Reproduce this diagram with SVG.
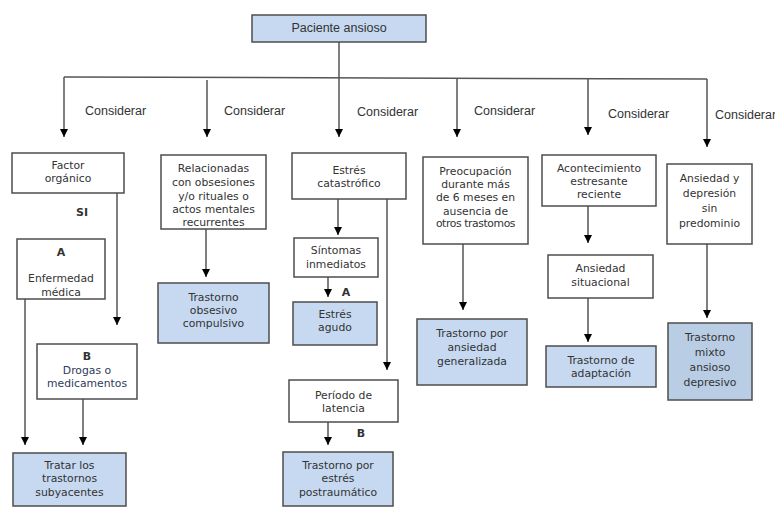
<svg xmlns="http://www.w3.org/2000/svg" width="775" height="508" viewBox="0 0 775 508">
<style>
.b{fill:#ffffff;stroke:#4d4d4d;stroke-width:1.5}
.f{fill:#c6d9f1;stroke:#4d4d4d;stroke-width:1.5}
.f2{fill:#b9cde5;stroke:#4d4d4d;stroke-width:1.5}
.t{font-family:"DejaVu Sans",Verdana,sans-serif;font-size:10.8px;fill:#333333;text-anchor:middle}
.k{font-family:"DejaVu Sans",Verdana,sans-serif;font-size:11px;font-weight:bold;fill:#333333;text-anchor:middle}
.c{font-family:"Liberation Sans",Arial,sans-serif;font-size:12.5px;fill:#333333}
.l{stroke:#555555;stroke-width:1.5;fill:none}
.a{stroke:#555555;stroke-width:1.5;fill:none;marker-end:url(#ah)}
</style>
<defs>
<marker id="ah" markerUnits="userSpaceOnUse" markerWidth="9" markerHeight="9" refX="8" refY="4" orient="auto">
<path d="M0,0 L8,4 L0,8 z" fill="#000000"/>
</marker>
</defs>
<rect width="775" height="508" fill="#ffffff"/>
<g id="connectors">
<line class="l" x1="339" y1="42" x2="339" y2="78"/>
<line class="l" x1="64" y1="77" x2="707" y2="79"/>
<line class="a" x1="64" y1="77" x2="64" y2="137"/>
<line class="a" x1="207" y1="80" x2="207" y2="137"/>
<line class="a" x1="339" y1="78" x2="339" y2="137"/>
<line class="a" x1="457" y1="79" x2="457" y2="137"/>
<line class="a" x1="588" y1="79" x2="588" y2="135"/>
<line class="a" x1="707" y1="79" x2="707" y2="147"/>
<line class="a" x1="117" y1="193" x2="117" y2="325"/>
<line class="a" x1="25" y1="299" x2="25" y2="445"/>
<line class="a" x1="83" y1="399" x2="83" y2="445"/>
<line class="a" x1="206" y1="229" x2="206" y2="277"/>
<line class="a" x1="338" y1="199" x2="338" y2="235"/>
<line class="a" x1="328" y1="277" x2="328" y2="297"/>
<line class="a" x1="387" y1="199" x2="387" y2="370"/>
<line class="a" x1="328" y1="422" x2="328" y2="445"/>
<line class="a" x1="463" y1="244" x2="463" y2="310"/>
<line class="a" x1="588" y1="206" x2="588" y2="243"/>
<line class="a" x1="588" y1="298" x2="588" y2="342"/>
<line class="a" x1="707" y1="244" x2="707" y2="318"/>
<text class="c" x="85" y="115">Considerar</text>
<text class="c" x="224" y="115">Considerar</text>
<text class="c" x="357" y="116">Considerar</text>
<text class="c" x="474" y="115">Considerar</text>
<text class="c" x="608" y="118">Considerar</text>
<text class="c" x="715" y="119">Considerar</text>
<text class="k" x="82" y="216">SI</text>
<text class="k" x="346" y="296">A</text>
<text class="k" x="361" y="437">B</text>
</g>
<g id="paciente">
<rect class="f" x="252" y="15" width="174" height="27"/>
<text class="c" x="339" y="32" text-anchor="middle">Paciente ansioso</text>
</g>
<g id="factor">
<rect class="b" x="12" y="153" width="112" height="40"/>
<text class="t" x="68" y="169">Factor<tspan x="68" y="182">orgánico</tspan></text>
</g>
<g id="enfermedad">
<rect class="b" x="17" y="239" width="88" height="60"/>
<text class="k" x="61" y="256">A</text>
<text class="t" x="61" y="282">Enfermedad<tspan x="61" y="296">médica</tspan></text>
</g>
<g id="drogas">
<rect class="b" x="37" y="344" width="100" height="55"/>
<text class="k" x="87" y="360">B</text>
<text class="t" x="87" y="374" style="fill:#2f3a5a">Drogas o<tspan x="87" y="387">medicamentos</tspan></text>
</g>
<g id="tratar">
<rect class="f" x="13" y="453" width="113" height="53"/>
<text class="t" x="69.5" y="469">Tratar los<tspan x="69.5" y="482">trastornos</tspan><tspan x="69.5" y="496">subyacentes</tspan></text>
</g>
<g id="relacionadas">
<rect class="b" x="161" y="155" width="105" height="74"/>
<text class="t" x="213.5" y="172">Relacionadas<tspan x="213.5" y="186">con obsesiones</tspan><tspan x="213.5" y="200">y/o rituales o</tspan><tspan x="213.5" y="213">actos mentales</tspan><tspan x="213.5" y="226">recurrentes</tspan></text>
</g>
<g id="toc">
<rect class="f" x="158" y="283" width="111" height="60"/>
<text class="t" x="213.5" y="301">Trastorno<tspan x="213.5" y="314">obsesivo</tspan><tspan x="213.5" y="327">compulsivo</tspan></text>
</g>
<g id="estres-catastrofico">
<rect class="b" x="292" y="153" width="114" height="46"/>
<text class="t" x="349" y="174">Estrés<tspan x="349" y="187">catastrófico</tspan></text>
</g>
<g id="sintomas">
<rect class="b" x="294" y="238" width="84" height="39"/>
<text class="t" x="336" y="254">Síntomas<tspan x="336" y="268">inmediatos</tspan></text>
</g>
<g id="estres-agudo">
<rect class="f" x="293" y="302" width="84" height="43"/>
<text class="t" x="335" y="318">Estrés<tspan x="335" y="331">agudo</tspan></text>
</g>
<g id="latencia">
<rect class="b" x="289" y="380" width="109" height="42"/>
<text class="t" x="343.5" y="399">Período de<tspan x="343.5" y="412">latencia</tspan></text>
</g>
<g id="tept">
<rect class="f" x="283" y="452" width="110" height="54"/>
<text class="t" x="338" y="469">Trastorno por<tspan x="338" y="482">estrés</tspan><tspan x="338" y="496">postraumático</tspan></text>
</g>
<g id="preocupacion">
<rect class="b" x="423" y="157" width="105" height="87"/>
<text class="t" x="475.5" y="175">Preocupación<tspan x="475.5" y="188">durante  más</tspan><tspan x="475.5" y="201">de 6 meses en</tspan><tspan x="475.5" y="215">ausencia de</tspan><tspan x="475.5" y="227" letter-spacing="-0.4">otros trastomos</tspan></text>
</g>
<g id="tag">
<rect class="f" x="417" y="319" width="110" height="66"/>
<text class="t" x="472" y="337">Trastorno por<tspan x="472" y="351">ansiedad</tspan><tspan x="472" y="365">generalizada</tspan></text>
</g>
<g id="acontecimiento">
<rect class="b" x="542" y="155" width="114" height="51"/>
<text class="t" x="599" y="172">Acontecimiento<tspan x="599" y="185">estresante</tspan><tspan x="599" y="198">reciente</tspan></text>
</g>
<g id="situacional">
<rect class="b" x="548" y="255" width="105" height="43"/>
<text class="t" x="600.5" y="272">Ansiedad<tspan x="600.5" y="286">situacional</tspan></text>
</g>
<g id="adaptacion">
<rect class="f" x="546" y="346" width="110" height="41"/>
<text class="t" x="601" y="364">Trastorno de<tspan x="601" y="377">adaptación</tspan></text>
</g>
<g id="ansiedad-depresion">
<rect class="b" x="667" y="164" width="85" height="80"/>
<text class="t" x="709.5" y="182">Ansiedad y<tspan x="709.5" y="197">depresión</tspan><tspan x="709.5" y="212">sin</tspan><tspan x="709.5" y="227">predominio</tspan></text>
</g>
<g id="mixto">
<rect class="f2" x="668" y="323" width="84" height="77"/>
<text class="t" x="710" y="341">Trastorno<tspan x="710" y="356">mixto</tspan><tspan x="710" y="371">ansioso</tspan><tspan x="710" y="386">depresivo</tspan></text>
</g>
</svg>
